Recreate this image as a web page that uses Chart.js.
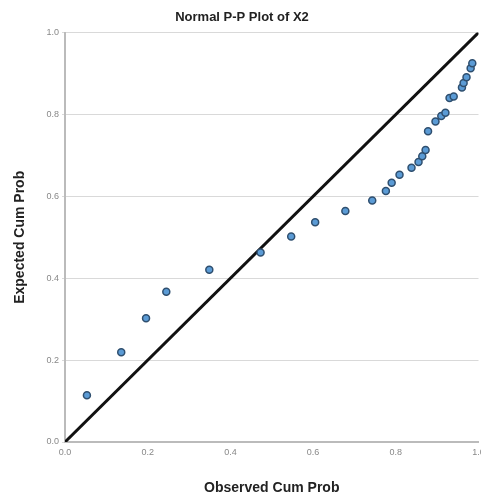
<!DOCTYPE html>
<html>
<head>
<meta charset="utf-8">
<script src="https://cdn.jsdelivr.net/npm/chart.js@4"></script>
<style>
  html, body { margin: 0; padding: 0; background: #fff; overflow: hidden; }
  #wrap { width: 484px; height: 497px; }
</style>
</head>
<body>
<div id="wrap"><canvas id="myChart"></canvas></div>
<script>
// observed vs expected cumulative probabilities
const observedCumProb = [0.053, 0.136, 0.196, 0.245, 0.349, 0.473, 0.547, 0.605, 0.678, 0.743,
  0.776, 0.790, 0.809, 0.838, 0.855, 0.864, 0.872, 0.878, 0.896, 0.910,
  0.920, 0.930, 0.940, 0.960, 0.964, 0.971, 0.981, 0.985];
const expectedCumProb = [0.114, 0.219, 0.302, 0.367, 0.421, 0.463, 0.502, 0.537, 0.564, 0.590,
  0.613, 0.633, 0.653, 0.670, 0.684, 0.698, 0.713, 0.759, 0.783, 0.796,
  0.804, 0.840, 0.844, 0.866, 0.877, 0.891, 0.913, 0.925];
const refLineX = [0, 1];
const refLineY = [0, 1];
const tickValues = [0, 0.2, 0.4, 0.6, 0.8, 1.0];

const points = observedCumProb.map((x, i) => ({ x: x, y: expectedCumProb[i] }));
const refLine = refLineX.map((x, i) => ({ x: x, y: refLineY[i] }));

Chart.defaults.font.family = "'Liberation Sans', Arial, sans-serif";

const ctx = document.getElementById('myChart');
new Chart(ctx, {
  type: 'scatter',
  data: {
    datasets: [{
      label: 'Observed',
      data: points,
      backgroundColor: '#5b9bd5',
      borderColor: '#2f4f6f',
      borderWidth: 1.5,
      pointRadius: 3.5,
      order: 1
    }, {
      type: 'line',
      label: 'Reference',
      data: refLine,
      borderColor: '#111',
      borderWidth: 3,
      pointRadius: 0,
      fill: false,
      order: 2
    }]
  },
  options: {
    responsive: true,
    maintainAspectRatio: false,
    animation: false,
    layout: { padding: { left: 0, right: 0, top: 0, bottom: 0 } },
    scales: {
      x: {
        type: 'linear',
        min: 0,
        max: 1,
        afterBuildTicks: function(scale) {
          scale.ticks = tickValues.map(v => ({ value: v }));
        },
        afterFit: function(scale) {
          scale.height = 55;
          scale.paddingRight = 0;
          scale.paddingLeft = 0;
        },
        grid: { display: false, drawTicks: true, tickLength: 3 },
        border: { display: true, color: '#bbb', width: 2 },
        ticks: {
          color: '#888',
          font: { size: 9 },
          padding: 2,
          maxRotation: 0,
          callback: v => v.toFixed(1)
        },
        title: {
          display: true,
          text: 'Observed Cum Prob',
          color: '#222',
          font: { size: 14, weight: 'bold' },
          padding: { top: 14, bottom: 0 }
        }
      },
      y: {
        type: 'linear',
        min: 0,
        max: 1,
        afterBuildTicks: function(scale) {
          scale.ticks = tickValues.map(v => ({ value: v }));
        },
        afterFit: function(scale) {
          scale.width = 65;
          scale.paddingTop = 0;
          scale.paddingBottom = 0;
        },
        grid: { color: '#d9d9d9', lineWidth: 1, drawTicks: true, tickLength: 3 },
        border: { display: true, color: '#bbb', width: 2 },
        ticks: {
          color: '#888',
          font: { size: 9 },
          padding: 3,
          callback: v => v.toFixed(1)
        },
        title: {
          display: true,
          text: 'Expected Cum Prob',
          color: '#222',
          font: { size: 14, weight: 'bold' },
          padding: { top: 12, bottom: 8 }
        }
      }
    },
    plugins: {
      legend: { display: false },
      tooltip: { enabled: false },
      title: {
        display: true,
        text: 'Normal P-P Plot of X2',
        color: '#222',
        font: { size: 13, weight: 'bold' },
        padding: { top: 10, bottom: 7 }
      }
    }
  }
});
</script>
</body>
</html>
